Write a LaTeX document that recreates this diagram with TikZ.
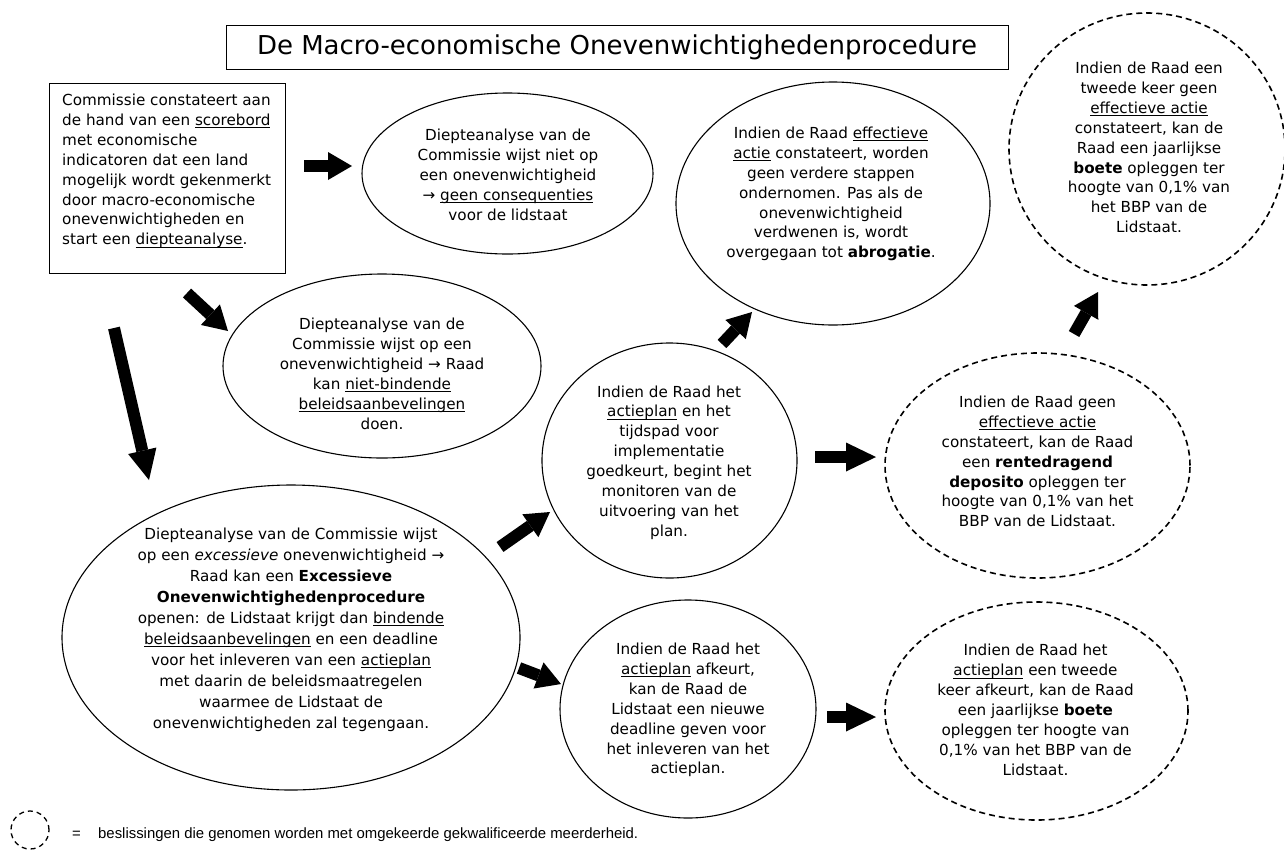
\documentclass[tikz,border=0pt]{standalone}
\usepackage{fontspec}
\setmainfont{DejaVu Sans}
\newfontfamily\legfont{Liberation Sans}
\newsavebox{\undlbox}
\newcommand{\undl}[1]{\leavevmode\sbox{\undlbox}{#1}\rlap{\rule[-2.6pt]{\wd\undlbox}{0.9pt}}\usebox{\undlbox}}
\usetikzlibrary{shapes.geometric,arrows.meta}
\begin{document}
\begin{tikzpicture}[x=1pt,y=-1pt,
  ell/.style={draw=black,line width=1.1pt,ellipse,inner sep=0pt},
  dell/.style={ell,dash pattern=on 6pt off 4pt,line width=1.6pt},
  txt/.style={align=center,inner sep=0pt,font=\fontsize{15.2}{19.9}\selectfont},
  blk/.style={line width=12pt,-{Triangle[length=24pt,width=28pt,line width=0pt]}},
  blkl/.style={line width=12pt,-{Triangle[length=30pt,width=29pt,line width=0pt]}},
]
\useasboundingbox (0,0) rectangle (1284,855);

% title
\node[draw,line width=1pt,minimum width=782pt,minimum height=44pt,inner sep=0pt,
  font=\fontsize{26}{30}\selectfont] (title) at (617,47)
  {De Macro-economische Onevenwichtighedenprocedure};

% left box
\node[draw,line width=1pt,minimum width=236pt,minimum height=190pt,inner sep=0pt] (box) at (167,178) {};
\node[txt,align=left,anchor=west] (boxt) at (62,171) {Commissie constateert aan\\
de hand van een \undl{scorebord}\\
met economische\\
indicatoren dat een land\\
mogelijk wordt gekenmerkt\\
door macro-economische\\
onevenwichtigheden en\\
start een \undl{diepteanalyse}.};

% ellipse A
\node[ell,minimum width=291pt,minimum height=161pt] (A) at (507.5,173.5) {};
\node[txt] (At) at (508,175) {Diepteanalyse van de\\
Commissie wijst niet op\\
een onevenwichtigheid\\
→ \undl{geen consequenties}\\
voor de lidstaat};

% ellipse B
\node[ell,minimum width=318pt,minimum height=184pt] (B) at (382,366) {};
\node[txt] (Bt) at (382,374) {Diepteanalyse van de\\
Commissie wijst op een\\
onevenwichtigheid → Raad\\
kan \undl{niet-bindende}\\
\undl{beleidsaanbevelingen}\\
doen.};

% ellipse E0
\node[ell,minimum width=458pt,minimum height=305pt] (E0) at (291,637.5) {};
\node[txt,font=\fontsize{15.2}{21}\selectfont] (E0t) at (291,629.5) {Diepteanalyse van de Commissie wijst\\
op een \textit{excessieve} onevenwichtigheid →\\
Raad kan een \textbf{Excessieve}\\
\textbf{Onevenwichtighedenprocedure}\\
openen: de Lidstaat krijgt dan \undl{bindende}\\
\undl{beleidsaanbevelingen} en een deadline\\
voor het inleveren van een \undl{actieplan}\\
met daarin de beleidsmaatregelen\\
waarmee de Lidstaat de\\
onevenwichtigheden zal tegengaan.};

% ellipse C
\node[ell,minimum width=314pt,minimum height=243pt] (C) at (833,203.5) {};
\node[txt] (Ct) at (831,194) {Indien de Raad \undl{effectieve}\\
\undl{actie} constateert, worden\\
geen verdere stappen\\
ondernomen. Pas als de\\
onevenwichtigheid\\
verdwenen is, wordt\\
overgegaan tot \textbf{abrogatie}.};

% ellipse D
\node[ell,minimum width=255pt,minimum height=235pt] (D) at (669.5,460.5) {};
\node[txt] (Dt) at (669,462.5) {Indien de Raad het\\
\undl{actieplan} en het\\
tijdspad voor\\
implementatie\\
goedkeurt, begint het\\
monitoren van de\\
uitvoering van het\\
plan.};

% ellipse E
\node[ell,minimum width=256pt,minimum height=218pt] (E) at (688,709) {};
\node[txt] (Et) at (688,710) {Indien de Raad het\\
\undl{actieplan} afkeurt,\\
kan de Raad de\\
Lidstaat een nieuwe\\
deadline geven voor\\
het inleveren van het\\
actieplan.};

% dashed F
\node[dell,minimum width=276pt,minimum height=272pt] (F) at (1147,149) {};
\node[txt] (Ft) at (1149,147.5) {Indien de Raad een\\
tweede keer geen\\
\undl{effectieve actie}\\
constateert, kan de\\
Raad een jaarlijkse\\
\textbf{boete} opleggen ter\\
hoogte van 0,1\% van\\
het BBP van de\\
Lidstaat.};

% dashed G
\node[dell,minimum width=305pt,minimum height=225pt] (G) at (1037.5,465.5) {};
\node[txt] (Gt) at (1037.5,461.5) {Indien de Raad geen\\
\undl{effectieve actie}\\
constateert, kan de Raad\\
een \textbf{rentedragend}\\
\textbf{deposito} opleggen ter\\
hoogte van 0,1\% van het\\
BBP van de Lidstaat.};

% dashed H
\node[dell,minimum width=303pt,minimum height=218pt] (H) at (1036.5,711) {};
\node[txt] (Ht) at (1035.5,710) {Indien de Raad het\\
\undl{actieplan} een tweede\\
keer afkeurt, kan de Raad\\
een jaarlijkse \textbf{boete}\\
opleggen ter hoogte van\\
0,1\% van het BBP van de\\
Lidstaat.};

% arrow coordinates
\coordinate (a1s) at (304,166);  \coordinate (a1e) at (352,166);
\coordinate (a2s) at (187,293);  \coordinate (a2e) at (228,331);
\coordinate (a3s) at (114,328);  \coordinate (a3e) at (149,480);
\coordinate (a4s) at (500,547);  \coordinate (a4e) at (550,512);
\coordinate (a5s) at (519,668);  \coordinate (a5e) at (561,684);
\coordinate (a6s) at (722,344);  \coordinate (a6e) at (752,312);
\coordinate (a7s) at (815,457);  \coordinate (a7e) at (876,457);
\coordinate (a8s) at (1074,334); \coordinate (a8e) at (1098,292);
\coordinate (a9s) at (827,717);  \coordinate (a9e) at (876,717);

\draw[blk] (a1s) -- (a1e);
\draw[blk] (a2s) -- (a2e);
\draw[blkl] (a3s) -- (a3e);
\draw[blk] (a4s) -- (a4e);
\draw[blk] (a5s) -- (a5e);
\draw[blk] (a6s) -- (a6e);
\draw[blkl] (a7s) -- (a7e);
\draw[blk] (a8s) -- (a8e);
\draw[blkl] (a9s) -- (a9e);

% legend
\node[draw,circle,dash pattern=on 5pt off 4pt,line width=1.3pt,minimum size=38pt,inner sep=0pt] (leg) at (30,830) {};
\node[anchor=west,inner sep=0pt,font=\legfont\fontsize{14.9}{16}\selectfont] (eq) at (72,835) {=};
\node[anchor=west,inner sep=0pt,font=\legfont\fontsize{14.9}{16}\selectfont] (legt) at (98,835)
  {beslissingen die genomen worden met omgekeerde gekwalificeerde meerderheid.};
\end{tikzpicture}
\end{document}
